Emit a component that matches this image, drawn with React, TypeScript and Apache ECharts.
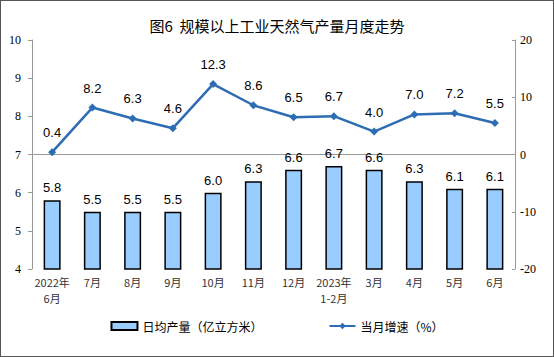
import React, { useEffect, useRef } from "react";
import * as echarts from "echarts";

const categories = ["2022年\n6月", "7月", "8月", "9月", "10月", "11月", "12月", "2023年\n1-2月", "3月", "4月", "5月", "6月"];
const dailyOutput = [5.8, 5.5, 5.5, 5.5, 6.0, 6.3, 6.6, 6.7, 6.6, 6.3, 6.1, 6.1];
const growthRate = [0.4, 8.2, 6.3, 4.6, 12.3, 8.6, 6.5, 6.7, 4.0, 7.0, 7.2, 5.5];
const leftTicks = { min: 4, max: 10, interval: 1 };
const rightTicks = { min: -20, max: 20, interval: 10 };

export default function App() {
  const ref = useRef<HTMLDivElement>(null);
  useEffect(() => {
    document.body.style.margin = "0";
    const chart = echarts.init(ref.current!, null, { renderer: "svg" });
    const serif = "'Liberation Serif', 'DejaVu Serif', serif";
    const cjk = "'Noto Sans CJK SC', sans-serif";
    chart.setOption({
      animation: false,
      backgroundColor: "#fff",
      title: {
        text: "图6  规模以上工业天然气产量月度走势",
        left: "center",
        top: 12,
        textStyle: { fontFamily: cjk, fontSize: 15, fontWeight: "normal", color: "#000" },
      },
      grid: { left: 31, right: 38, top: 39, bottom: 87 },
      legend: {
        bottom: 19,
        left: "center",
        itemGap: 66,
        itemWidth: 26,
        itemHeight: 8,
        textStyle: { fontFamily: cjk, fontSize: 12, color: "#000" },
        data: [
          { name: "日均产量（亿立方米）", icon: "rect" },
          { name: "当月增速（%）" },
        ],
      },
      xAxis: {
        type: "category",
        data: categories,
        axisLine: { lineStyle: { color: "#999" } },
        axisTick: { inside: true, length: 3, lineStyle: { color: "#999" } },
        axisLabel: { fontFamily: cjk, fontSize: 11, color: "#333", lineHeight: 16, margin: 5, interval: 0 },
      },
      yAxis: [
        {
          type: "value",
          min: leftTicks.min,
          max: leftTicks.max,
          interval: leftTicks.interval,
          splitLine: { show: false },
          axisLine: { show: true, lineStyle: { color: "#999" } },
          axisTick: { show: true, length: 4, lineStyle: { color: "#999" } },
          axisLabel: { fontFamily: serif, fontSize: 12, color: "#000", margin: 11 },
        },
        {
          type: "value",
          min: rightTicks.min,
          max: rightTicks.max,
          interval: rightTicks.interval,
          position: "right",
          splitLine: { show: false },
          axisLine: { show: true, lineStyle: { color: "#999" } },
          axisTick: { show: true, inside: true, length: 3, lineStyle: { color: "#999" } },
          axisLabel: { fontFamily: serif, fontSize: 12, color: "#000", margin: 5 },
        },
      ],
      series: [
        {
          name: "日均产量（亿立方米）",
          type: "bar",
          data: dailyOutput,
          barWidth: 17,
          itemStyle: { color: "#99CCFF", borderColor: "#000", borderWidth: 1.5 },
          label: {
            show: true,
            position: "top",
            distance: 6,
            fontFamily: "'Liberation Sans', Arial, sans-serif",
            fontSize: 13,
            color: "#000",
            formatter: (p: any) => p.value.toFixed(1),
          },
        },
        {
          name: "当月增速（%）",
          type: "line",
          yAxisIndex: 1,
          data: growthRate,
          symbol: "diamond",
          symbolSize: 8,
          lineStyle: { color: "#2E6DB4", width: 2.5 },
          itemStyle: { color: "#2E6DB4" },
          label: {
            show: true,
            position: "top",
            distance: 9,
            fontFamily: "'Liberation Sans', Arial, sans-serif",
            fontSize: 13,
            color: "#000",
            formatter: (p: any) => p.value.toFixed(1),
          },
        },
      ],
    });
    return () => chart.dispose();
  }, []);
  return (
    <div
      style={{
        position: "absolute",
        left: 0,
        top: 0,
        width: 552,
        height: 355,
        border: "1px solid #555",
        background: "#fff",
      }}
    >
      <div ref={ref} style={{ width: 552, height: 355 }} />
    </div>
  );
}
